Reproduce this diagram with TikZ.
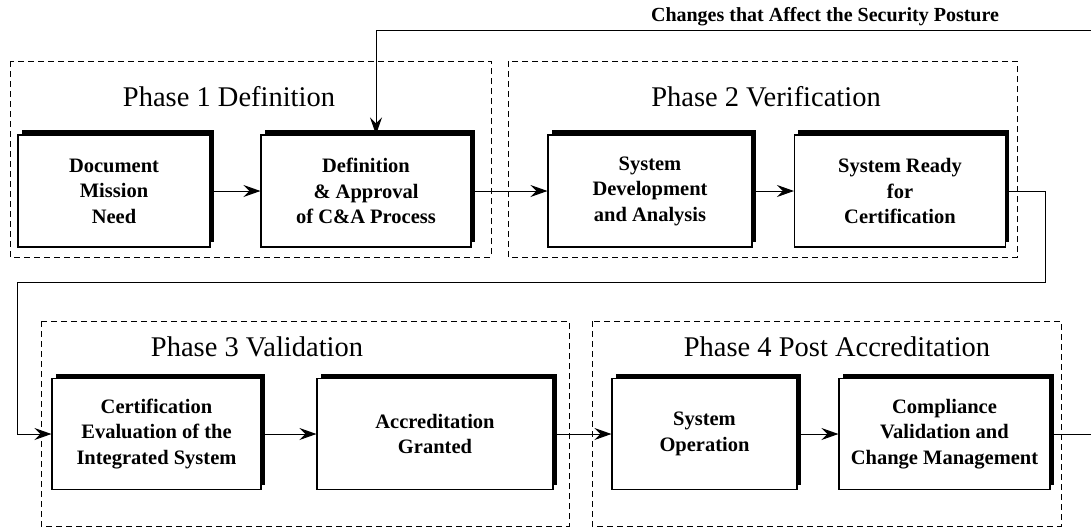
\documentclass[tikz,border=0pt]{standalone}
\usepackage{fontspec}
\setmainfont{Liberation Serif}
\usetikzlibrary{arrows.meta,shadows}
\begin{document}
\begin{tikzpicture}[x=1pt,y=-1pt,
  stage/.style={draw, fill=white, line width=1.1pt, minimum height=112pt, inner sep=2pt, align=center,
    font=\bfseries\fontsize{20.5}{25.5}\selectfont,
    drop shadow={shadow xshift=3.5pt, shadow yshift=5pt, fill=black, opacity=1}},
  phase/.style={dashed, dash pattern=on 6pt off 4pt, line width=0.9pt},
  phasetitle/.style={font=\fontsize{28.5}{30}\selectfont},
  flow/.style={line width=1pt, -{Stealth[length=17pt,width=12pt,inset=6pt]}}]
\useasboundingbox (0,0) rectangle (1091,527);
% phase frames
\draw[phase] (10,61) rectangle (491,257);
\draw[phase] (508,61) rectangle (1017,257);
\draw[phase] (41,321) rectangle (569,526);
\draw[phase] (592,321) rectangle (1061,526);
\node[phasetitle] (t1) at (229,97) {Phase 1 Definition};
\node[phasetitle] (t2) at (766,97) {Phase 2 Verification};
\node[phasetitle] (t3) at (257,347) {Phase 3 Validation};
\node[phasetitle] (t4) at (837,347) {Phase 4 Post Accreditation};
% top row
\node[stage, minimum width=192pt] (b1) at (114,191) {Document\\Mission\\Need};
\node[stage, minimum width=210pt] (b2) at (366,191) {Definition\\\& Approval\\of C\&A Process};
\node[stage, minimum width=204pt] (b3) at (650,191) {System\\Development\\and Analysis};
\node[stage, minimum width=211pt] (b4) at (900,191) {System Ready\\for\\Certification};
% bottom row
\node[stage, minimum width=209pt, minimum height=111pt] (b5) at (156.5,434) {Certification\\Evaluation of the\\Integrated System};
\node[stage, minimum width=236pt, minimum height=111pt] (b6) at (435,434) {Accreditation\\Granted};
\node[stage, minimum width=185pt, minimum height=111pt] (b7) at (704.5,434) {System\\Operation};
\node[stage, minimum width=211pt, minimum height=111pt] (b8) at (944.5,434) {Compliance\\Validation and\\Change Management};
% changes
\node[font=\bfseries\fontsize{20}{24}\selectfont] (chgtext) at (825,17) {Changes that Affect the Security Posture};
\coordinate (chg) at (1091,31);
\coordinate (turnR) at (1045,282);
\coordinate (turnL) at (17,282);
\coordinate (outR) at (1091,434);
\draw[flow] (chg) -| ([xshift=10pt]b2.north);
\draw[flow] (b1.east) -- (b2.west);
\draw[flow] (b2.east) -- (b3.west);
\draw[flow] (b3.east) -- (b4.west);
\draw[flow] (b4.east) -| (turnR) -- (turnL) |- (b5.west);
\draw[flow] (b5.east) -- (b6.west);
\draw[flow] (b6.east) -- (b7.west);
\draw[flow] (b7.east) -- (b8.west);
\draw[line width=1pt] (b8.east) -- (outR);
\end{tikzpicture}
\end{document}
